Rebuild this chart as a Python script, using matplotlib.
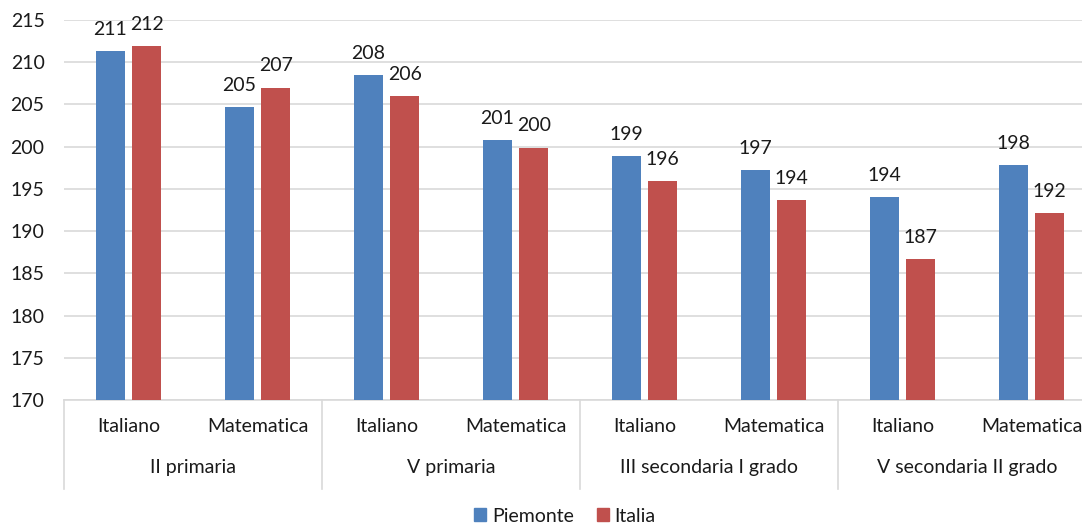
import matplotlib

matplotlib.use("Agg")
import matplotlib.pyplot as plt
import numpy as np
from matplotlib.patches import Patch

plt.rcParams["font.family"] = ["Lato", "DejaVu Sans"]

# data
subjects = ["Italiano", "Matematica"] * 4
grades = ["II primaria", "V primaria", "III secondaria I grado", "V secondaria II grado"]
piemonte = [211.3, 204.7, 208.5, 200.8, 198.9, 197.2, 194.0, 197.8]
italia = [211.9, 207.0, 206.0, 199.9, 195.9, 193.7, 186.7, 192.1]
piemonte_labels = [211, 205, 208, 201, 199, 197, 194, 198]
italia_labels = [212, 207, 206, 200, 196, 194, 187, 192]
series_names = ["Piemonte", "Italia"]

BLUE = "#4F81BD"
RED = "#C0504D"
TEXT = "#1a1a1a"
GRID = "#D9D9D9"
FS = 14
W, H = 1082, 524

fig = plt.figure(figsize=(W / 100, H / 100), dpi=100)
# plot area runs a bit past the right edge, like the cropped original
left, right, top, bottom = 64, 1096, 20, 400
ax = fig.add_axes([left / W, 1 - bottom / H, (right - left) / W, (bottom - top) / H])

x = np.arange(len(subjects))
bw, off = 0.225, 0.142
ax.bar(x - off, piemonte, bw, color=BLUE, zorder=3)
ax.bar(x + off, italia, bw, color=RED, zorder=3)

for xi, v, lab in zip(x - off, piemonte, piemonte_labels):
    ax.annotate(str(lab), (xi, v), xytext=(0, 9.5), textcoords="offset points",
                ha="center", va="bottom", fontsize=FS, color=TEXT)
for xi, v, lab in zip(x + off, italia, italia_labels):
    ax.annotate(str(lab), (xi, v), xytext=(0, 9.5), textcoords="offset points",
                ha="center", va="bottom", fontsize=FS, color=TEXT)

ax.set_ylim(170, 215)
ax.set_xlim(-0.5, len(subjects) - 0.5)
ax.set_yticks(np.arange(170, 216, 5))
ax.yaxis.grid(True, color=GRID, lw=1.2, zorder=0)
ax.tick_params(axis="y", length=0, pad=14, labelsize=FS, colors=TEXT)
ax.tick_params(axis="x", length=0, labelbottom=False)
for s in ("top", "right", "left"):
    ax.spines[s].set_visible(False)
ax.spines["bottom"].set_color(GRID)
ax.spines["bottom"].set_linewidth(1.2)
ax.set_xticks([])

# two-level category axis
tr = ax.get_xaxis_transform()
span = bottom - top
for xi, s in zip(x, subjects):
    ax.text(xi, -(427 - bottom) / span, s, transform=tr, ha="center", va="center",
            fontsize=FS, color=TEXT)
for i, g in enumerate(grades):
    ax.text(2 * i + 0.5, -(467 - bottom) / span, g, transform=tr, ha="center",
            va="center", fontsize=FS, color=TEXT)
for b in np.arange(-0.5, len(subjects), 2):
    ax.plot([b, b], [0, -(489 - bottom) / span], transform=tr, color=GRID,
            lw=1.2, clip_on=False)

handles = [Patch(color=BLUE, label=series_names[0]), Patch(color=RED, label=series_names[1])]
fig.legend(handles=handles, loc="center", bbox_to_anchor=(565 / W, 1 - 516 / H), ncol=2,
           frameon=False, fontsize=FS, handlelength=0.6, handleheight=0.6,
           handletextpad=0.3, columnspacing=1.2, labelcolor=TEXT)

fig.savefig("out.png", dpi=100)
